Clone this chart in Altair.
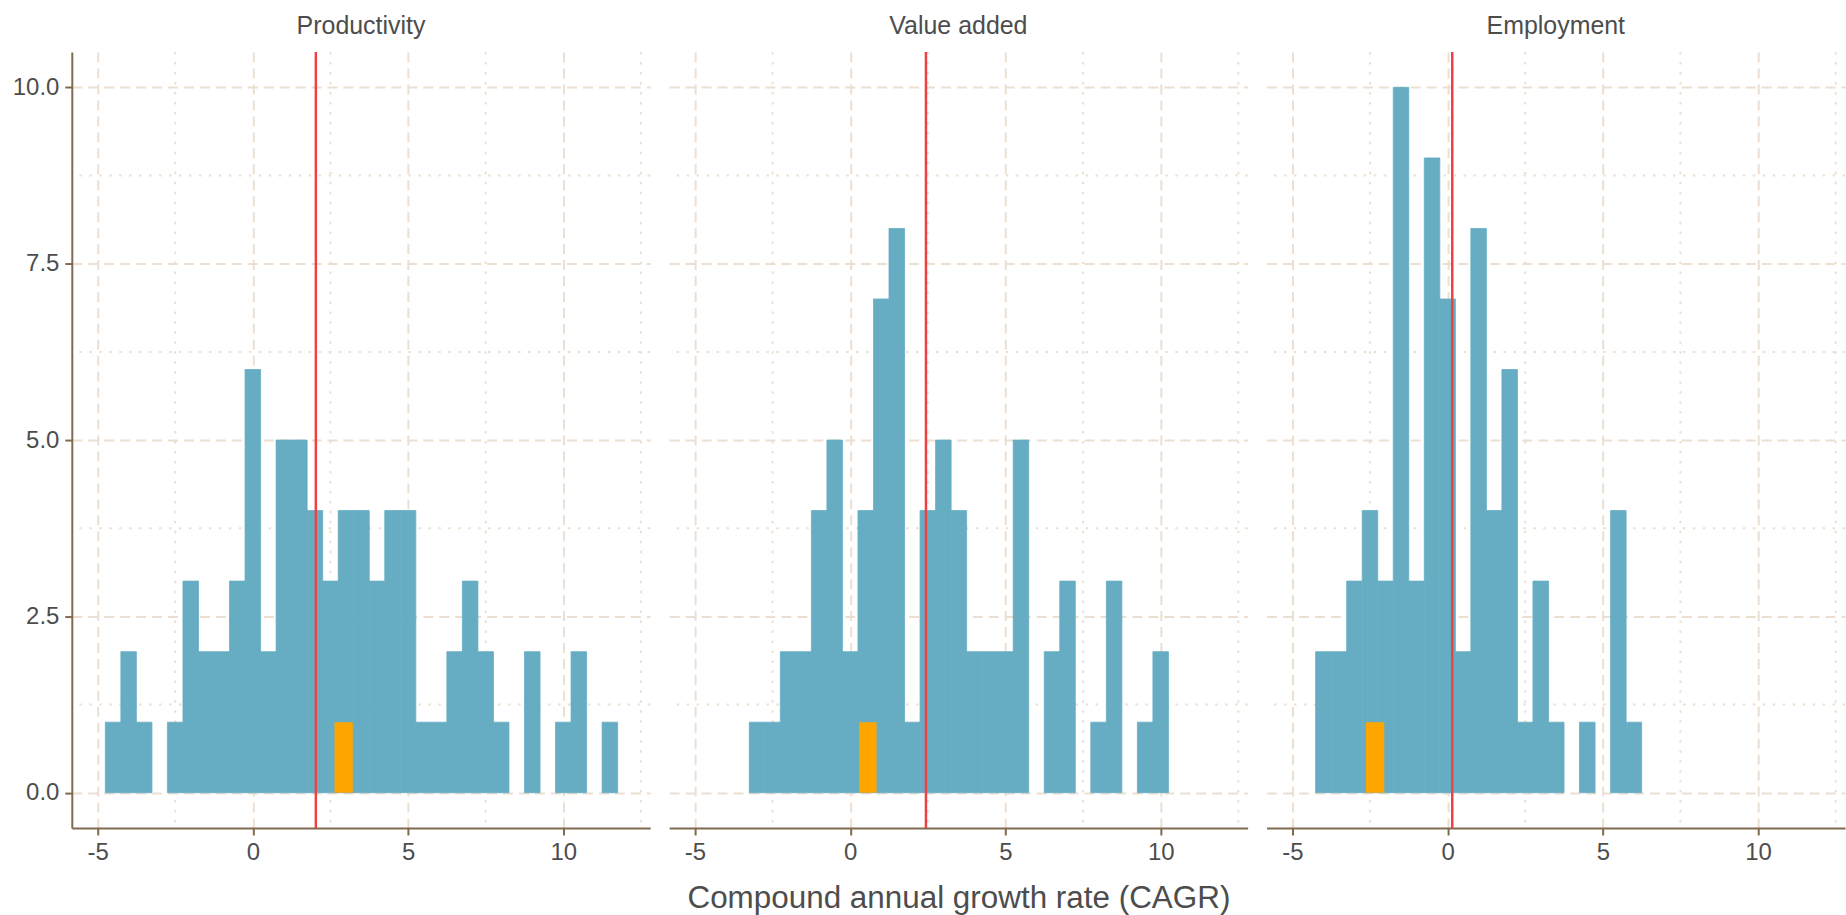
import altair as alt
import pandas as pd

# ---- data ----
panels = ["Productivity", "Value added", "Employment"]
bin_width = 0.5
bin_starts = [-4.75, -3.25, -4.25]
prod_counts = [1, 2, 1, 0, 1, 3, 2, 2, 3, 6, 2, 5, 5, 4, 3, 4, 4, 3, 4, 4, 1, 1, 2, 3, 2, 1, 0, 2, 0, 1, 2, 0, 1]
va_counts = [1, 1, 2, 2, 4, 5, 2, 4, 7, 8, 1, 4, 5, 4, 2, 2, 2, 5, 0, 2, 3, 0, 1, 3, 0, 1, 2]
emp_counts = [2, 2, 3, 4, 3, 10, 3, 9, 7, 2, 8, 4, 6, 1, 3, 1, 0, 1, 0, 4, 1]
all_counts = [prod_counts, va_counts, emp_counts]
mean_values = [2.03, 2.44, 0.15]
highlight_lo = [2.63, 0.29, -2.63]
highlight_hi = [3.22, 0.85, -2.04]
highlight_count = [1, 1, 1]
x_ticks = [-5, 0, 5, 10]
x_minor = [-2.5, 2.5, 7.5, 12.5]
y_ticks = [0, 2.5, 5, 7.5, 10]
y_minor = [1.25, 3.75, 6.25, 8.75]

BLUE = "#66ADC3"
ORANGE = "#FFA500"
RED = "#EE4143"
GRID = "#ECDFD2"
BROWN = "#806A4F"
TEXT = "#4D4D4D"
FONT = "Liberation Sans"

x_scale = alt.Scale(domain=[-5.83, 12.8], nice=False, zero=False)
y_scale = alt.Scale(domain=[-0.5, 10.5], nice=False, zero=False)


def make_panel(i):
    counts = all_counts[i]
    lo = [bin_starts[i] + bin_width * k for k in range(len(counts))]
    df = pd.DataFrame({
        "lo": lo,
        "hi": [v + bin_width for v in lo],
        "count": counts,
        "base": [0] * len(counts),
    })
    df = df[df["count"] > 0]

    x_axis_kw = dict(values=x_ticks, labelExpr="'' + datum.value", grid=True)
    if i == 1:
        x_axis = alt.Axis(title="Compound annual growth rate (CAGR)", **x_axis_kw)
    else:
        x_axis = alt.Axis(title="", **x_axis_kw)
    if i == 0:
        y_axis = alt.Axis(values=y_ticks, format=".1f", title="", grid=True)
    else:
        y_axis = alt.Axis(values=y_ticks, title="", grid=True, labels=False,
                          ticks=False, domain=False)

    def X(field):
        return alt.X(field, scale=x_scale, axis=x_axis)

    def Y(field):
        return alt.Y(field, scale=y_scale, axis=y_axis)

    minor_x = alt.Chart(pd.DataFrame({"v": x_minor})).mark_rule(
        color=GRID, strokeWidth=2, strokeDash=[2.5, 7.5]
    ).encode(x=X("v:Q"))
    minor_y = alt.Chart(pd.DataFrame({"v": y_minor})).mark_rule(
        color=GRID, strokeWidth=2, strokeDash=[2.5, 7.5]
    ).encode(y=Y("v:Q"))

    bars = alt.Chart(df).mark_rect(color=BLUE, stroke=BLUE, strokeWidth=0.8).encode(
        x=X("lo:Q"), x2="hi:Q", y=Y("count:Q"), y2="base:Q",
    )

    hl = pd.DataFrame({"lo": [highlight_lo[i]], "hi": [highlight_hi[i]],
                       "count": [highlight_count[i]], "base": [0]})
    orange = alt.Chart(hl).mark_rect(color=ORANGE).encode(
        x=X("lo:Q"), x2="hi:Q", y=Y("count:Q"), y2="base:Q",
    )

    red = alt.Chart(pd.DataFrame({"m": [mean_values[i]]})).mark_rule(
        color=RED, strokeWidth=2.5
    ).encode(x=X("m:Q"))

    return alt.layer(minor_x, minor_y, bars, orange, red).properties(
        width=580,
        height=778,
        title=alt.TitleParams(text=panels[i], fontSize=25, font=FONT, color=TEXT,
                              fontWeight="normal", anchor="middle", offset=12),
    )


chart = alt.hconcat(*[make_panel(i) for i in range(3)], spacing=17).properties(
    padding={"left": 12, "top": 12, "right": 0, "bottom": 2},
    background="white",
).configure_view(stroke=None).configure_axis(
    domainColor=BROWN,
    domainWidth=2,
    tickColor=BROWN,
    tickWidth=2,
    tickSize=7,
    labelFont=FONT,
    labelFontSize=24,
    labelColor=TEXT,
    labelPadding=6,
    gridColor=GRID,
    gridWidth=2,
    gridDash=[10, 6],
    titleFont=FONT,
    titleFontSize=31.5,
    titleFontWeight="normal",
    titleColor=TEXT,
    titlePadding=18,
)

chart.save("out.html", embed_options={"renderer": "svg", "actions": False})
